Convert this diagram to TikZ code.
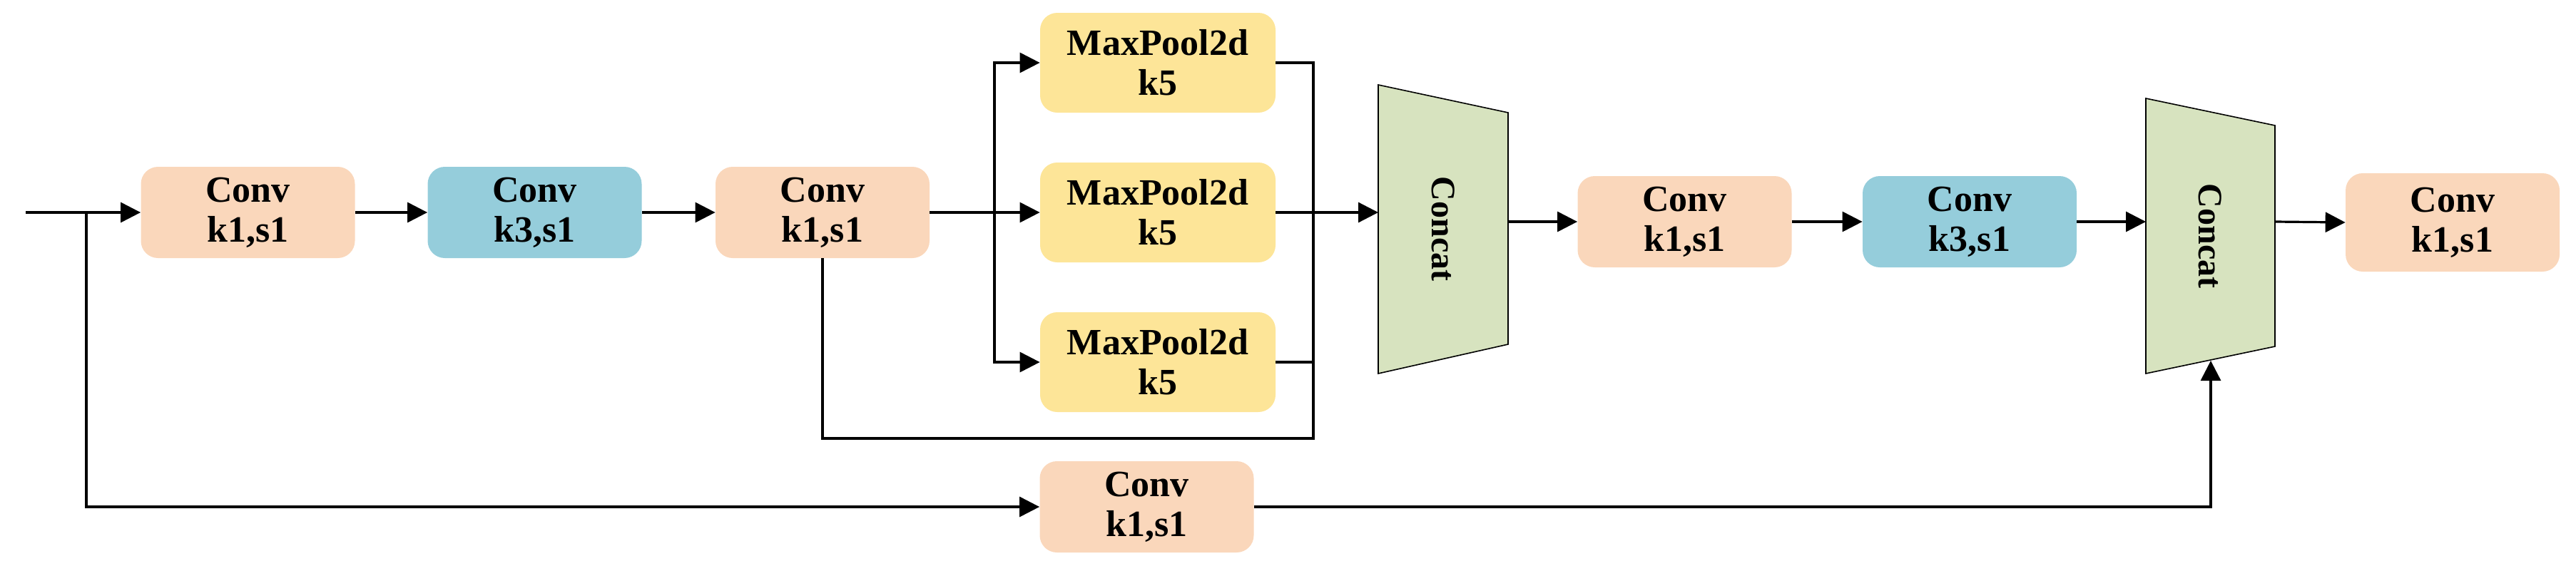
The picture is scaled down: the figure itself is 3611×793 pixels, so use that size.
\documentclass[tikz,border=0pt]{standalone}
\usepackage{fontspec}
\setmainfont{Liberation Serif}
\usetikzlibrary{arrows.meta}
\definecolor{peach}{HTML}{FAD7BB}
\definecolor{cblue}{HTML}{95CDDB}
\definecolor{cyel}{HTML}{FDE598}
\definecolor{cgreen}{HTML}{D7E3BF}
\begin{document}
\begin{tikzpicture}[x=0.5pt,y=-0.5pt,
  box/.style={rounded corners=12pt,inner sep=0pt,font=\fontsize{26}{28}\selectfont\bfseries,align=center},
  conv/.style={box,fill=peach,minimum width=150pt,minimum height=64pt},
  convb/.style={box,fill=cblue,minimum width=150pt,minimum height=64pt},
  pool/.style={box,fill=cyel,minimum width=165pt,minimum height=70pt},
  ln/.style={line width=1.6pt},
  ar/.style={ln,-{Triangle[length=14pt,width=14pt]}},
  cat/.style={fill=cgreen,draw=black,line width=0.8pt}]
\useasboundingbox (0,0) rectangle (3611,793);
\node[conv] (c1) at (347.5,298) {Conv\\k1,s1};
\node[convb] (c2) at (749.5,298) {Conv\\k3,s1};
\node[conv] (c3) at (1153,298) {Conv\\k1,s1};
\node[pool] (p1) at (1623,88) {MaxPool2d\\k5};
\node[pool] (p2) at (1623,298) {MaxPool2d\\k5};
\node[pool] (p3) at (1623,508) {MaxPool2d\\k5};
\node[conv] (cb) at (1607.5,711) {Conv\\k1,s1};
\node[conv] (c4) at (2361.5,311) {Conv\\k1,s1};
\node[convb] (c5) at (2761,311) {Conv\\k3,s1};
\node[conv,minimum height=69pt] (c6) at (3438,312) {Conv\\k1,s1};
% concat shapes
\draw[cat] (1932,119) -- (2114,158) -- (2114,483) -- (1932,524) -- cycle;
\node[rotate=-90,font=\fontsize{24}{24}\selectfont\bfseries] (k1) at (2023,321) {Concat};
\draw[cat] (3008,138) -- (3189,176) -- (3189,486) -- (3008,524) -- cycle;
\node[rotate=-90,font=\fontsize{24}{24}\selectfont\bfseries] (k2) at (3098,331) {Concat};
\coordinate (in) at (36,298);
\coordinate (sp) at (121,298);
\coordinate (br) at (1394,298);
\coordinate (col) at (1841,298);
\coordinate (k1in) at (1932,298);
\coordinate (k1out) at (2114,311);
\coordinate (k2in) at (3008,311);
\coordinate (k2out) at (3189,311);
\coordinate (k2bot) at (3099,506);
% main chain
\draw[ln] (in) -- (sp);
\draw[ar] (sp) -- (c1.west);
\draw[ar] (c1.east) -- (c2.west);
\draw[ar] (c2.east) -- (c3.west);
\draw[ln] (c3.east) -- (br);
\draw[ar] (br) -- (p2.west);
\draw[ar] (br) |- (p1.west);
\draw[ar] (br) |- (p3.west);
\draw[ln] (p1.east) -| (col);
\draw[ln] (p3.east) -| (col);
\draw[ln] (c3.south) |- (1841,615) -- (col);
\draw[ar] (p2.east) -- (k1in);
\draw[ar] (k1out) -- (c4.west);
\draw[ar] (c4.east) -- (c5.west);
\draw[ar] (c5.east) -- (k2in);
\draw[ar] (k2out) -- (c6.west);
% bottom branch
\draw[ar] (sp) |- (cb.west);
\draw[ar] (cb.east) -| (k2bot);
\end{tikzpicture}
\end{document}
